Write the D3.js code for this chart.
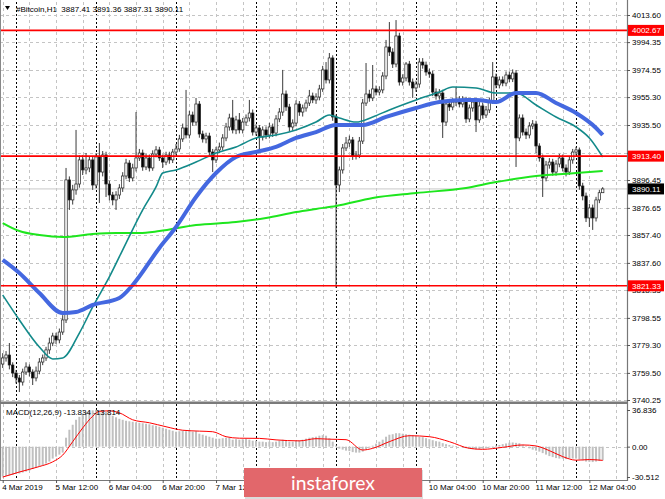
<!DOCTYPE html>
<html><head><meta charset="utf-8">
<script src="https://cdn.jsdelivr.net/npm/d3@7"></script>
<style>html,body{margin:0;padding:0;background:#fff;overflow:hidden}svg{display:block;font-family:"Liberation Sans",Arial,sans-serif}</style>
</head><body><svg id="c" width="665" height="499"></svg>
<script>
// ---------------- DATA ----------------
const symbolTitle = "#Bitcoin,H1";
const lastQuote = [3887.41, 3891.36, 3887.31, 3890.11];
const startTime = new Date(2019, 2, 4, 20, 0); // first hourly bar
const opens = [3765.8,3770.1,3772.2,3765.1,3759.4,3755.9,3753.0,3760.1,3763.7,3760.1,3755.9,3760.8,3767.2,3770.1,3775.8,3780.7,3785.7,3782.9,3788.5,3797.1,
3896.5,3882.3,3889.4,3893.6,3910.7,3903.6,3905.0,3910.7,3892.9,3912.8,3902.1,3914.2,3893.6,3885.8,3882.3,3885.8,3890.8,3899.3,3908.5,3897.9,
3905.0,3912.1,3915.6,3905.7,3912.1,3905.0,3914.9,3917.8,3912.1,3909.2,3914.2,3910.7,3916.3,3918.5,3925.6,3933.4,3928.4,3942.6,3937.6,3950.4,
3929.1,3925.6,3927.7,3916.3,3910.7,3917.8,3919.9,3926.3,3934.1,3940.5,3932.0,3939.1,3932.0,3937.6,3940.5,3944.0,3930.5,3933.4,3927.0,3932.0,
3928.4,3934.1,3929.8,3939.8,3944.7,3957.5,3948.3,3934.1,3936.9,3950.4,3944.7,3947.6,3951.1,3956.1,3953.3,3955.4,3961.1,3974.6,3967.5,3983.1,
3941.2,3892.9,3903.6,3919.2,3922.7,3924.9,3913.5,3914.2,3924.1,3951.1,3957.5,3954.7,3961.1,3958.9,3960.4,3970.3,3990.9,3987.3,3978.8,3998.7,
3966.0,3968.9,3978.8,3966.0,3961.8,3964.6,3980.2,3978.1,3973.1,3971.7,3958.9,3956.1,3958.2,3937.6,3950.4,3948.3,3951.8,3953.3,3950.4,3953.3,
3939.8,3947.6,3951.8,3939.1,3949.0,3942.6,3946.2,3952.5,3969.6,3963.9,3967.5,3965.3,3971.0,3968.2,3972.4,3926.3,3940.5,3930.5,3928.4,3934.8,
3936.2,3920.6,3912.1,3897.9,3907.1,3909.2,3902.1,3907.8,3912.1,3905.0,3902.1,3910.7,3916.3,3917.8,3892.2,3885.1,3869.5,3876.6,3869.5,3882.3,
3887.41];
const highs = [3773.5,3775.0,3780.7,3767.0,3761.5,3758.0,3762.5,3767.0,3765.5,3762.0,3764.0,3770.0,3772.5,3778.0,3784.5,3788.0,3788.0,3791.0,3800.5,3905.0,
3899.0,3893.0,3932.0,3914.0,3914.0,3915.6,3913.5,3913.0,3915.5,3922.7,3917.0,3916.5,3896.0,3888.0,3888.5,3893.5,3902.0,3911.5,3910.5,3908.0,
3944.7,3918.5,3918.0,3915.0,3914.5,3917.5,3920.5,3920.0,3914.5,3916.5,3916.5,3918.5,3922.0,3928.5,3936.5,3960.4,3945.5,3945.0,3954.7,3952.5,
3931.5,3930.0,3930.0,3918.5,3920.0,3923.0,3929.0,3937.0,3943.5,3953.3,3942.0,3944.0,3940.5,3943.0,3953.3,3946.5,3936.0,3935.5,3934.5,3934.5,
3937.0,3936.5,3942.5,3947.5,3974.6,3960.0,3950.5,3939.5,3953.0,3952.5,3950.0,3953.5,3960.4,3958.5,3958.0,3964.0,3977.5,3980.2,3986.6,3985.0,
3943.0,3906.0,3922.0,3927.0,3928.0,3927.0,3917.0,3927.0,3954.0,3979.5,3960.5,3978.1,3963.5,3963.0,3973.0,3995.9,4008.6,3990.0,4010.0,4001.0,
3971.5,3980.2,3981.0,3968.5,3967.0,3983.0,3983.0,3980.5,3975.5,3974.0,3961.5,3961.0,3960.5,3953.0,3953.0,3954.5,3962.5,3956.0,3956.0,3955.5,
3950.0,3954.5,3954.0,3952.0,3951.5,3949.0,3955.0,3980.2,3972.0,3970.0,3970.0,3973.5,3973.5,3975.0,3974.5,3943.0,3943.0,3933.0,3937.5,3939.0,
3938.5,3922.5,3914.5,3910.0,3912.0,3911.5,3910.5,3915.0,3914.5,3907.5,3913.5,3918.5,3920.0,3919.5,3894.5,3887.5,3879.5,3879.0,3884.5,3889.5,
3891.36];
const lows = [3763.0,3767.5,3762.0,3756.5,3752.0,3745.9,3750.5,3758.0,3757.0,3750.9,3753.5,3758.5,3765.0,3768.0,3773.0,3778.5,3780.0,3780.5,3786.5,3794.9,
3875.2,3879.0,3886.0,3891.0,3900.0,3900.5,3902.0,3889.4,3890.5,3880.1,3899.0,3884.4,3882.0,3878.5,3875.2,3883.0,3888.0,3897.0,3895.0,3895.5,
3902.5,3910.0,3903.0,3903.5,3902.5,3903.0,3912.5,3910.0,3905.0,3907.0,3908.0,3908.5,3914.0,3916.5,3923.5,3926.0,3926.0,3935.0,3935.0,3926.5,
3923.0,3922.5,3914.0,3902.1,3908.5,3915.5,3917.5,3924.0,3931.5,3929.5,3929.0,3929.5,3929.5,3935.0,3938.0,3928.0,3928.0,3917.8,3924.5,3925.5,
3926.0,3927.0,3927.5,3937.5,3942.0,3945.5,3931.0,3931.5,3934.5,3942.0,3941.5,3945.0,3949.0,3951.0,3950.5,3953.0,3959.0,3965.0,3965.0,3938.5,
3819.8,3887.9,3901.0,3917.0,3920.0,3910.7,3911.0,3912.0,3922.0,3949.0,3952.0,3952.5,3956.5,3956.5,3958.0,3968.0,3984.5,3976.0,3976.5,3963.5,
3963.5,3966.5,3963.5,3954.7,3959.0,3962.0,3975.5,3970.5,3969.0,3956.0,3953.5,3953.5,3926.3,3935.0,3945.5,3946.0,3949.0,3948.0,3948.0,3937.0,
3937.5,3945.0,3930.5,3937.0,3940.0,3940.5,3944.0,3950.5,3961.5,3961.5,3963.0,3963.0,3966.0,3966.0,3905.7,3924.0,3928.0,3925.5,3926.0,3932.5,
3915.6,3909.5,3884.4,3895.5,3904.5,3899.5,3899.5,3905.5,3902.5,3899.0,3900.0,3908.0,3914.0,3889.5,3882.0,3866.6,3863.1,3861.0,3867.0,3880.0,
3887.31];
const closes = [3770.1,3772.2,3765.1,3759.4,3755.9,3753.0,3760.1,3763.7,3760.1,3755.9,3760.8,3767.2,3770.1,3775.8,3780.7,3785.7,3782.9,3788.5,3797.1,3896.5,
3882.3,3889.4,3893.6,3910.7,3903.6,3905.0,3910.7,3892.9,3912.8,3902.1,3914.2,3893.6,3885.8,3882.3,3885.8,3890.8,3899.3,3908.5,3897.9,3905.0,
3912.1,3915.6,3905.7,3912.1,3905.0,3914.9,3917.8,3912.1,3909.2,3914.2,3910.7,3916.3,3918.5,3925.6,3933.4,3928.4,3942.6,3937.6,3950.4,3929.1,
3925.6,3927.7,3916.3,3910.7,3917.8,3919.9,3926.3,3934.1,3940.5,3932.0,3939.1,3932.0,3937.6,3940.5,3944.0,3930.5,3933.4,3927.0,3932.0,3928.4,
3934.1,3929.8,3939.8,3944.7,3957.5,3948.3,3934.1,3936.9,3950.4,3944.7,3947.6,3951.1,3956.1,3953.3,3955.4,3961.1,3974.6,3967.5,3983.1,3941.2,
3892.9,3903.6,3919.2,3922.7,3924.9,3913.5,3914.2,3924.1,3951.1,3957.5,3954.7,3961.1,3958.9,3960.4,3970.3,3990.9,3987.3,3978.8,3998.7,3966.0,
3968.9,3978.8,3966.0,3961.8,3964.6,3980.2,3978.1,3973.1,3971.7,3958.9,3956.1,3958.2,3937.6,3950.4,3948.3,3951.8,3953.3,3950.4,3953.3,3939.8,
3947.6,3951.8,3939.1,3949.0,3942.6,3946.2,3952.5,3969.6,3963.9,3967.5,3965.3,3971.0,3968.2,3972.4,3926.3,3940.5,3930.5,3928.4,3934.8,3936.2,
3920.6,3912.1,3897.9,3907.1,3909.2,3902.1,3907.8,3912.1,3905.0,3902.1,3910.7,3916.3,3917.8,3892.2,3885.1,3869.5,3876.6,3869.5,3882.3,3887.41,
3890.11];
// moving averages read at sample bars: [bar index, price]
const greenMA = [[0,3865.9],[5,3860.2],[11,3857.4],[18,3856.0],[27,3858.1],[34,3858.8],[41,3858.8],[47,3860.2],[58,3864.5],[70,3866.6],[79,3869.5],[88,3873.7],[94,3875.9],[100,3878.0],[111,3883.7],[124,3887.2],[139,3890.8],[148,3895.0],[160,3899.3],[172,3901.4],[180,3902.8]];
const tealMA = [[0,3814.8],[5,3797.1],[11,3777.9],[15,3769.4],[18,3770.1],[23,3787.8],[27,3806.3],[32,3827.6],[37,3851.7],[42,3875.2],[46,3891.5],[48,3901.4],[52,3903.6],[58,3909.2],[64,3915.6],[70,3919.9],[76,3926.3],[82,3928.4],[88,3932.0],[94,3937.6],[98,3942.6],[101,3940.5],[106,3937.6],[111,3941.2],[116,3946.2],[124,3953.3],[131,3958.9],[135,3962.5],[142,3961.8],[148,3958.2],[154,3958.2],[160,3949.7],[166,3941.2],[172,3934.1],[176,3926.3],[180,3912.8]];
const blueMA = [[0,3839.7],[5,3830.4],[11,3816.2],[18,3802.0],[22,3802.7],[27,3807.7],[35,3812.7],[39,3821.9],[47,3848.2],[52,3863.1],[58,3884.4],[64,3901.4],[70,3912.8],[76,3916.3],[82,3919.9],[88,3926.3],[94,3930.5],[100,3935.5],[108,3935.5],[115,3941.2],[124,3947.6],[131,3951.8],[139,3953.3],[142,3953.3],[148,3951.8],[154,3958.2],[160,3958.2],[166,3951.1],[172,3944.0],[178,3933.4],[180,3928.4]];
const levels = [4002.67, 3913.40, 3821.33];
const priceTicks = [4013.60,3994.35,3974.55,3955.30,3935.50,3915.70,3896.45,3876.65,3857.40,3837.60,3818.35,3798.55,3779.30,3759.50,3740.25];
const macdHist = [-30,-29.5,-29,-28.5,-27.5,-27,-26,-25,-24,-22.5,-21,-20,-19,-17,-15,-12,-10,-8,-6,9,
17,22,27,30,33,35,36,36.5,37,36.5,36,35,33,31,29.5,28,27,26,25.5,25,
24.5,24,23.5,23,22.5,21.5,21,20,19,18,17,16,15,15.5,16,15.5,16,15,15.5,13,
12,11,10,9,8,8,8.5,9,9,7,7.5,7,7.5,8,7,6,6,5,5,4.5,
5,4.5,5,6,7,6,5,5,6,6.5,7,8,9,9.5,10,11,11.5,11,8.5,5,
1,-2,-3,-4,-4.5,-5.5,-6,-6,-5,-3,-1,1,3,5,7,10,12,12.5,13.5,13.5,
13,12.5,12,11.5,11,10,9.5,8.5,7.5,6.5,5.5,5,3.5,2.5,1.7,1,0.5,0,-0.7,-1.5,
-2,-2.5,-2.7,-2.5,-2,-1.5,-0.7,0.5,1,1.7,2.5,3.2,4,4.2,3.8,3.4,2,0.5,-1.7,-3,
-4,-5,-6.5,-8,-9.5,-10.5,-11.5,-12,-12,-12.5,-12,-12,-12,-13,-14,-15,-15.3,-15.5,-15,-14.3,
-13.834];
const macdSignal = [[0,-30.6],[5,-25.5],[11,-20],[15,-15.3],[18,-8.5],[21,5],[24,18.8],[27,30.6],[29,35.5],[32,36],[35,34],[39,27],[44,24],[49,20],[54,16.5],[59,15.6],[63,15],[67,10],[71,8.5],[77,8.3],[82,6.8],[89,5.8],[94,8],[98,7.5],[103,7],[108,-3.4],[111,-1.7],[116,5],[122,11],[128,10],[134,5],[140,-1.7],[144,-2.7],[150,-0.7],[156,1.7],[160,0.7],[164,-4],[168,-10],[172,-13.6],[176,-13],[180,-13.814]];
const macdTicks = [36.836, 0, -30.512];
const macdLast = [-13.834, -13.814];
const timeLabels = ["4 Mar 2019","5 Mar 12:00","6 Mar 04:00","6 Mar 20:00","7 Mar 12:00","8 Mar 04:00","8 Mar 20:00","9 Mar 12:00","10 Mar 04:00","10 Mar 20:00","11 Mar 12:00","12 Mar 04:00"];
const logoText = "instaforex";

// ---------------- LAYOUT ----------------
const W = 665, H = 499;
const plotRight = 627;
const mainTop = 2, mainBottom = 402;
const subTop = 404, subBottom = 480;
const HOUR = 3600e3;
const barTime = i => new Date(+startTime + i * HOUR);
const n = closes.length;

const svg = d3.select("#c");
svg.append("rect").attr("width", W).attr("height", H).attr("fill", "#fff");

const x = d3.scaleTime().domain([barTime(0), barTime(n - 1)]).range([2.7, 602.7]);
const y = d3.scaleLinear().domain([3738.83, 4022.83]).range([mainBottom, mainTop]);
const ym = d3.scaleLinear().domain([-30.512, 36.836]).range([477, 410]);

// ---------------- GRID ----------------
const grid = svg.append("g");
const gridBars = d3.range(0, 188, 8);
const sepBars = d3.range(4, 188, 24);
[[mainTop, mainBottom], [subTop, subBottom]].forEach(([t, b]) => {
  grid.selectAll(null).data(gridBars).enter().append("line")
    .attr("x1", d => Math.round(x(barTime(d))) + 0.5).attr("x2", d => Math.round(x(barTime(d))) + 0.5)
    .attr("y1", t).attr("y2", b).attr("stroke", "#c4c4c4").attr("stroke-dasharray", "3,3");
  grid.selectAll(null).data(sepBars).enter().append("line")
    .attr("x1", d => Math.round(x(barTime(d))) + 0.5).attr("x2", d => Math.round(x(barTime(d))) + 0.5)
    .attr("y1", t).attr("y2", b).attr("stroke", "#000").attr("stroke-dasharray", "2,2");
});
grid.selectAll(null).data(priceTicks).enter().append("line")
  .attr("x1", 0).attr("x2", plotRight).attr("y1", d => Math.round(y(d)) + 0.5).attr("y2", d => Math.round(y(d)) + 0.5)
  .attr("stroke", "#c4c4c4").attr("stroke-dasharray", "3,3");
grid.append("line").attr("x1", 0).attr("x2", plotRight).attr("y1", Math.round(ym(0)) + 0.5).attr("y2", Math.round(ym(0)) + 0.5)
  .attr("stroke", "#c4c4c4").attr("stroke-dasharray", "3,3");

// bid line
svg.append("line").attr("x1", 0).attr("x2", plotRight).attr("y1", y(lastQuote[3])).attr("y2", y(lastQuote[3]))
  .attr("stroke", "#c8c8c8").attr("stroke-width", 1);

// ---------------- CANDLES ----------------
const cg = svg.append("g");
const idx = d3.range(n);
const bw = 2.4;
cg.selectAll(null).data(idx).enter().append("line")
  .attr("x1", i => x(barTime(i))).attr("x2", i => x(barTime(i)))
  .attr("y1", i => y(highs[i])).attr("y2", i => y(lows[i]))
  .attr("stroke", "#3a3a3a").attr("stroke-width", 1);
cg.selectAll(null).data(idx).enter().append("rect")
  .attr("x", i => x(barTime(i)) - bw / 2).attr("width", bw)
  .attr("y", i => y(Math.max(opens[i], closes[i])))
  .attr("height", i => Math.max(1, Math.abs(y(opens[i]) - y(closes[i]))))
  .attr("fill", i => closes[i] >= opens[i] ? "#fff" : "#000")
  .attr("stroke", "#222").attr("stroke-width", 0.7);

// ---------------- MAs ----------------
const maLine = d3.line().x(d => x(barTime(d[0]))).y(d => y(d[1])).curve(d3.curveMonotoneX);
svg.append("path").attr("d", maLine(greenMA)).attr("fill", "none").attr("stroke", "#1ee61e").attr("stroke-width", 2);
svg.append("path").attr("d", maLine(tealMA)).attr("fill", "none").attr("stroke", "#138a8a").attr("stroke-width", 1.6);
svg.append("path").attr("d", maLine(blueMA)).attr("fill", "none").attr("stroke", "#4468e0").attr("stroke-width", 4).attr("stroke-linejoin", "round");

// ---------------- LEVELS ----------------
svg.selectAll(null).data(levels).enter().append("line")
  .attr("x1", 0).attr("x2", plotRight).attr("y1", d => y(d)).attr("y2", d => y(d))
  .attr("stroke", "#ff0000").attr("stroke-width", 1.6);

// ---------------- MACD ----------------
svg.selectAll(null).data(idx).enter().append("rect")
  .attr("x", i => x(barTime(i)) - 1).attr("width", 2)
  .attr("y", i => Math.min(ym(0), ym(macdHist[i])))
  .attr("height", i => Math.abs(ym(macdHist[i]) - ym(0)))
  .attr("fill", "#c0c0c0");
const sigLine = d3.line().x(d => x(barTime(d[0]))).y(d => ym(d[1])).curve(d3.curveMonotoneX);
svg.append("path").attr("d", sigLine(macdSignal)).attr("fill", "none").attr("stroke", "#ff0000").attr("stroke-width", 1);

// ---------------- FRAMES ----------------
svg.append("line").attr("x1", 0.5).attr("x2", 0.5).attr("y1", 0).attr("y2", subBottom).attr("stroke", "#888");
svg.append("rect").attr("x", 0).attr("y", 401.5).attr("width", plotRight).attr("height", 2.5).attr("fill", "#7a7a7a");
svg.append("line").attr("x1", 0).attr("x2", plotRight + 1).attr("y1", subBottom + 0.5).attr("y2", subBottom + 0.5).attr("stroke", "#777");
svg.append("line").attr("x1", plotRight + 0.5).attr("x2", plotRight + 0.5).attr("y1", 0).attr("y2", subBottom + 1).attr("stroke", "#777").attr("stroke-width", 1.2);

// ---------------- AXES ----------------
const fmt2 = d3.format(".2f");
const yAxis = svg.append("g").attr("transform", `translate(${plotRight},0)`)
  .call(d3.axisRight(y).tickValues(priceTicks).tickFormat(fmt2).tickSize(3));
const mAxis = svg.append("g").attr("transform", `translate(${plotRight},0)`)
  .call(d3.axisRight(ym).tickValues(macdTicks).tickFormat(d => d === 0 ? "0.00" : d.toFixed(3)).tickSize(3));
const labelDates = timeLabels.map((_, k) => barTime(k * 16));
const xAxis = svg.append("g").attr("transform", `translate(0,${subBottom})`)
  .call(d3.axisBottom(x).tickValues(labelDates).tickFormat((d, k) => timeLabels[k]).tickSize(3));
[yAxis, mAxis, xAxis].forEach(g => {
  g.select(".domain").remove();
  g.selectAll("line").attr("stroke", "#555");
  g.selectAll("text").attr("fill", "#000").attr("font-size", "8px").attr("font-family", "Liberation Sans, Arial, sans-serif");
});
yAxis.selectAll("text").attr("x", 5);
mAxis.selectAll("text").attr("x", 5);
xAxis.selectAll("text").attr("text-anchor", "start").attr("x", -1).attr("y", 4);

// level tags
const tag = (v, fill) => {
  const g = svg.append("g").attr("transform", `translate(${plotRight + 1},${y(v)})`);
  g.append("rect").attr("x", 0).attr("y", -5.5).attr("width", 36).attr("height", 11).attr("fill", fill);
  g.append("text").attr("x", 4).attr("y", 3).attr("fill", "#fff").attr("font-size", "8px").text(fmt2(v));
};
levels.forEach(v => tag(v, "#ff0000"));
tag(lastQuote[3], "#000");

// ---------------- TEXTS ----------------
svg.append("path").attr("d", "M5,6 L10,6 L7.5,10 Z").attr("fill", "#000");
svg.append("text").attr("x", 16).attr("y", 11.5).attr("font-size", "8px").attr("fill", "#000")
  .attr("xml:space", "preserve")
  .text(symbolTitle + "  " + lastQuote.map(fmt2).join(" "));
svg.append("text").attr("x", 6).attr("y", 414.5).attr("font-size", "8px").attr("fill", "#000")
  .text("MACD(12,26,9) " + macdLast.map(v => v.toFixed(3)).join(" "));

// logo
const lg = svg.append("g");
lg.append("rect").attr("x", 245).attr("y", 470).attr("width", 178).attr("height", 29).attr("fill", "#999").attr("opacity", 0.35);
lg.append("rect").attr("x", 244).attr("y", 468).attr("width", 178).attr("height", 29).attr("fill", "#e2676b");
lg.append("text").attr("x", 333).attr("y", 489.5).attr("text-anchor", "middle").attr("fill", "#fff")
  .attr("font-family", "Lato, 'Open Sans', sans-serif").attr("font-size", "20px")
  .attr("textLength", 84).attr("lengthAdjust", "spacingAndGlyphs").text(logoText);
</script></body></html>
